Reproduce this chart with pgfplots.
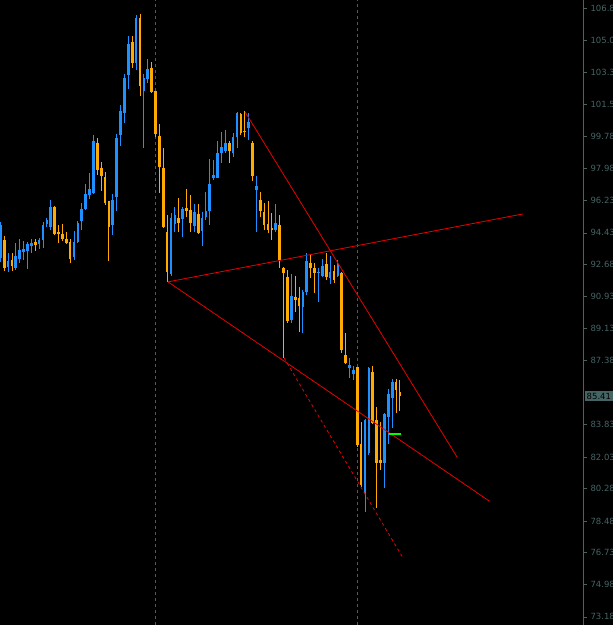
\documentclass[border=0pt]{standalone}
\usepackage{pgfplots}
\pgfplotsset{compat=1.18}
\usepackage{pgfplotstable}
\usepackage{fontspec}
\setmainfont{DejaVu Sans}
\definecolor{bullc}{RGB}{30,144,255}
\definecolor{bearc}{RGB}{255,170,0}
\definecolor{gridc}{RGB}{70,95,95}
\definecolor{labc}{RGB}{70,100,100}
\definecolor{trend}{RGB}{235,0,0}
\pgfplotstableread{
i o h l c
0 93.05 95.04 92.82 94.87
2 92.55 93.32 92.27 92.88
4 92.49 93.88 92.38 93.16
5 92.99 94.10 92.77 93.49
6 93.38 93.99 92.93 93.54
7 93.43 93.93 92.44 93.82
8 93.71 94.10 93.32 93.88
10 93.82 94.15 93.54 94.04
11 94.04 95.04 93.60 94.87
12 94.93 95.26 94.76 95.15
13 94.76 96.26 94.59 95.87
19 93.10 94.54 92.93 93.93
20 93.93 95.09 93.88 94.98
21 95.09 96.09 94.59 95.76
22 95.76 97.14 95.70 96.59
23 96.53 97.75 96.31 96.86
24 96.64 99.85 96.59 99.52
29 94.87 96.59 94.32 96.26
30 96.42 99.91 95.65 99.69
31 99.85 101.51 99.24 101.18
32 101.07 103.23 100.52 103.01
33 103.17 105.33 102.40 104.89
35 103.84 106.49 103.45 106.33
37 102.29 103.23 99.13 103.01
38 102.95 104.06 102.73 103.50
44 92.16 95.54 92.05 95.26
45 94.93 95.87 94.48 95.43
47 95.20 95.87 94.21 95.76
50 94.82 96.03 94.48 95.59
52 94.54 95.59 93.71 95.26
53 95.31 96.70 95.15 95.65
54 95.65 98.52 94.87 97.14
55 97.47 98.47 97.36 97.64
56 97.47 99.52 97.47 98.86
57 98.86 100.02 98.30 99.19
58 98.97 100.13 98.86 99.41
60 98.86 99.96 98.63 99.74
61 99.74 101.13 99.13 101.07
64 100.24 101.07 99.58 100.57
66 96.81 97.58 94.48 97.03
71 94.59 96.03 94.48 94.98
75 89.61 92.16 89.45 90.94
78 90.33 91.27 88.90 91.16
79 91.16 93.32 91.00 92.88
82 92.22 92.49 90.61 92.27
83 92.05 92.99 91.99 92.60
85 91.94 93.16 91.61 92.27
87 92.05 92.93 91.99 92.71
90 86.96 87.51 86.40 87.12
91 86.63 87.07 86.29 86.85
94 80.04 84.14 78.99 84.08
95 82.25 87.01 82.14 86.96
99 81.70 84.47 80.32 84.41
100 84.25 85.80 82.75 85.52
101 85.30 86.35 83.64 86.18
}\bull
\pgfplotstableread{
i o h l c
1 94.04 94.26 92.33 92.49
3 92.93 93.32 92.33 92.60
9 93.93 94.10 93.43 93.76
14 95.87 95.92 94.32 94.37
15 94.48 94.87 93.88 94.37
16 94.37 94.93 93.99 94.10
17 94.10 94.48 93.82 93.88
18 93.93 94.10 92.77 92.99
25 99.41 99.69 97.64 97.92
26 98.03 98.36 96.75 97.58
27 97.53 97.80 95.98 96.09
28 96.20 96.20 92.88 94.76
34 105.00 105.33 103.56 103.84
36 106.33 106.55 102.01 102.56
39 103.56 103.89 102.18 102.23
40 102.29 102.29 99.74 99.91
41 99.80 100.46 96.64 98.08
42 98.03 99.13 94.71 94.76
43 94.48 95.43 91.72 92.27
46 95.26 96.37 94.48 94.98
48 95.81 96.86 95.31 95.65
49 95.70 96.53 94.48 94.98
51 95.48 96.03 94.37 94.43
59 99.41 99.52 98.30 98.97
62 101.01 101.07 99.85 99.96
63 100.07 101.18 99.74 100.02
65 99.41 99.52 97.31 97.58
67 96.26 96.70 95.31 95.65
68 95.59 96.09 94.59 94.87
69 94.93 96.20 94.43 94.59
70 94.71 95.54 94.04 94.59
72 94.87 95.43 92.49 92.93
73 92.49 92.55 87.51 92.22
74 91.99 92.38 89.45 89.56
76 90.89 92.05 90.06 90.72
77 90.83 91.44 88.95 90.39
80 92.77 93.27 91.94 92.49
81 92.49 92.77 91.11 92.22
84 92.71 93.32 91.83 91.99
86 92.33 92.66 91.66 91.83
88 92.22 92.27 87.79 87.95
89 87.68 88.90 87.18 87.23
92 87.01 87.01 82.59 82.70
93 82.75 83.97 80.37 80.48
96 86.74 87.07 83.86 83.91
97 84.08 84.80 79.21 81.70
98 81.87 83.97 81.31 81.70
102 86.18 86.35 84.47 85.74
103 85.63 86.29 84.58 85.41
}\bear
\begin{document}
\begin{tikzpicture}[x=1pt,y=1pt]
\fill[black] (0,0) rectangle (613,625);
\useasboundingbox (0,0) rectangle (613,625);
\begin{axis}[at={(0,0)}, anchor=south west, scale only axis,
  width=583pt, height=625pt,
  xmin=-0.08, xmax=150.18, ymin=72.73, ymax=107.32,
  axis x line=none, axis y line*=right,
  axis line style={draw=labc, line width=0.8pt},
  xtick=\empty,
  ytick={106.88,105.08,103.33,101.53,99.78,97.98,96.23,94.43,92.68,90.93,89.13,87.38,83.83,82.03,80.28,78.48,76.73,74.98,73.18},
  yticklabels={106.88,105.08,103.33,101.53,99.78,97.98,96.23,94.43,92.68,90.93,89.13,87.38,83.83,82.03,80.28,78.48,76.73,74.98,73.18},
  tick align=outside, major tick length=4pt,
  tick style={draw=labc, line width=0.6pt},
  yticklabel style={font=\fontsize{8.5}{10}\selectfont, text=labc},
]
% period separators
\draw[gridc, line width=0.8pt, dash pattern=on 3pt off 3pt] (axis cs:39.87,72.73) -- (axis cs:39.87,107.32);
\draw[gridc, line width=0.8pt, dash pattern=on 3pt off 3pt] (axis cs:91.93,72.73) -- (axis cs:91.93,107.32);
% wicks
\addplot[draw=none, mark=none, forget plot, error bars/.cd, y dir=plus, y explicit, error mark=none,
  error bar style={draw=bullc, line width=0.9pt, solid}]
  table[x=i, y=l, y error expr=\thisrow{h}-\thisrow{l}] {\bull};
\addplot[draw=none, mark=none, forget plot, error bars/.cd, y dir=plus, y explicit, error mark=none,
  error bar style={draw=bearc, line width=0.9pt, solid}]
  table[x=i, y=l, y error expr=\thisrow{h}-\thisrow{l}] {\bear};
% bodies
\addplot[draw=none, mark=none, forget plot, error bars/.cd, y dir=plus, y explicit, error mark=none,
  error bar style={draw=bullc, line width=2.7pt, solid}]
  table[x=i, y=o, y error expr=\thisrow{c}-\thisrow{o}] {\bull};
\addplot[draw=none, mark=none, forget plot, error bars/.cd, y dir=plus, y explicit, error mark=none,
  error bar style={draw=bearc, line width=2.7pt, solid}]
  table[x=i, y=c, y error expr=\thisrow{o}-\thisrow{c}] {\bear};
% trend lines
\addplot[trend, line width=0.8pt, mark=none] coordinates {(63.07,101.13) (117.7,82.03)};
\addplot[trend, line width=0.8pt, mark=none] coordinates {(43.22,91.72) (134.7,95.48)};
\addplot[trend, line width=0.8pt, mark=none] coordinates {(43.22,91.72) (125.95,79.60)};
\addplot[trend, line width=0.8pt, mark=none, dash pattern=on 3pt off 3pt] coordinates {(73.12,87.51) (103.8,76.44)};
\addplot[green, line width=1.5pt, mark=none] coordinates {(100.2,83.29) (103.3,83.29)};
\end{axis}
\node[fill=labc, text=black, anchor=west, inner sep=1.5pt, font=\fontsize{8.5}{10}\selectfont] at (585,229) {85.41};
\end{tikzpicture}
\end{document}
